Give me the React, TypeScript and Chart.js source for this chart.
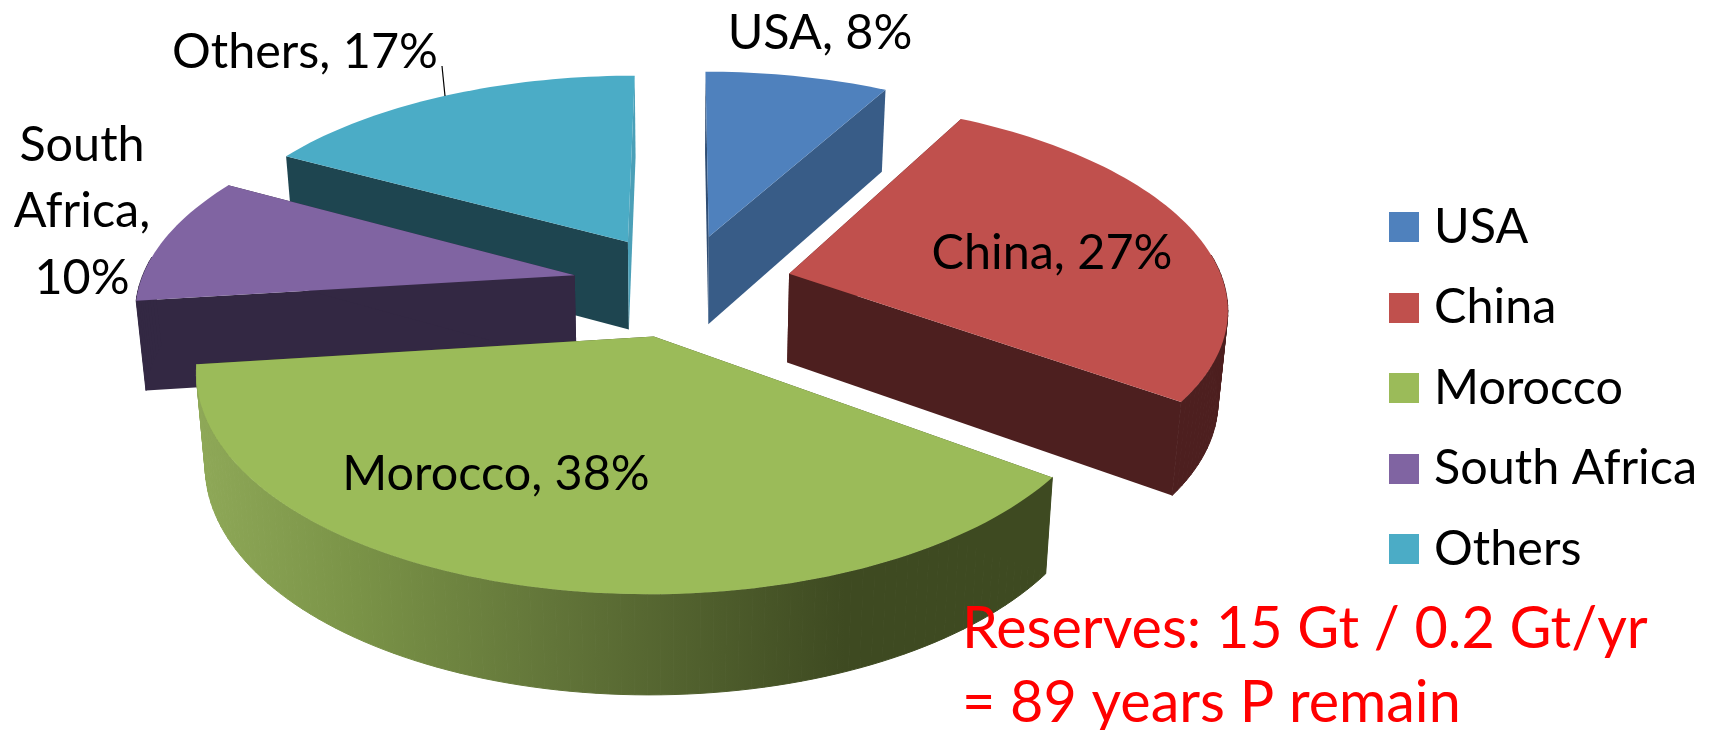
import React, { useEffect, useRef } from "react";
import { Chart, registerables } from "chart.js";

Chart.register(...registerables);

// Share of world phosphate rock reserves
const categories = ["USA", "China", "Morocco", "South Africa", "Others"];
const shares = [8, 27, 38, 10, 17];
const faceColors = ["#4F81BD", "#C0504D", "#9BBB59", "#8064A2", "#4BACC6"];
const outerWallColors = ["#385C87", "#4D1F1F", "#3E4A21", "#332843", "#1E4550"];
const startWallColors = ["#2F4D73", "#4D1F1F", "#3E4A21", "#332843", "#1E4550"];
const endWallColors = ["#385C87", "#4D1F1F", "#3E4A21", "#332843", "#4BA0B8"];
const noteLines = ["Reserves: 15 Gt / 0.2 Gt/yr", "= 89 years P remain"];

const FONT = "Lato, Carlito, sans-serif";

// Where each slice label sits: anchor centre and how its text wraps
const labelSpots = [
  { x: 820, y: 33, lines: null },
  { x: 1052, y: 253, lines: null },
  { x: 496, y: 474, lines: null },
  { x: 82, y: 145, lines: ["South", "Africa,", "10%"] },
  { x: 305, y: 52, lines: null },
];

// Camera used for the tilted disc: x/y centre, half extents, perspective strength
const view = { cx: 682.3, cy: 284.8, spanX: 434.9, spanY: 202.6, persp: 0.148 };
const wall = { base: 82, growth: 0.037, refY: 90, narrowing: 0.982 };

type Pt = { x: number; y: number };

function project(u: number, v: number): Pt {
  const s = 1 / (1 - view.persp * v);
  return { x: view.cx + view.spanX * u * s, y: view.cy + view.spanY * v * s };
}

function drop(p: Pt): Pt {
  return {
    x: view.cx + (p.x - view.cx) * wall.narrowing,
    y: p.y + wall.base + wall.growth * (p.y - wall.refY),
  };
}

function fillPoly(ctx: CanvasRenderingContext2D, pts: Pt[], fill: string | CanvasGradient) {
  ctx.beginPath();
  pts.forEach((p, i) => (i ? ctx.lineTo(p.x, p.y) : ctx.moveTo(p.x, p.y)));
  ctx.closePath();
  ctx.fillStyle = fill;
  ctx.fill();
}

// Square legend swatch, wider than the slot the legend reserves for it
function swatch(color: string) {
  const c = document.createElement("canvas");
  c.width = 30;
  c.height = 30;
  const g = c.getContext("2d") as CanvasRenderingContext2D;
  g.fillStyle = color;
  g.fillRect(0, 0, 30, 30);
  return c;
}

const pie3d = {
  id: "pie3d",
  // The flat arcs are replaced by their extruded projection
  beforeDatasetDraw: () => false,
  beforeDatasetsDraw(chart: any) {
    const ctx: CanvasRenderingContext2D = chart.ctx;
    const slices = chart.getDatasetMeta(0).data.map((arc: any, index: number) => {
      const R = arc.outerRadius;
      const mid = (arc.startAngle + arc.endAngle) / 2;
      const off = arc.options.offset / R;
      const ou = off * Math.cos(mid);
      const ov = off * Math.sin(mid);
      const rim: Pt[] = [];
      const facing: boolean[] = [];
      const steps = Math.max(8, Math.ceil((arc.endAngle - arc.startAngle) * 40));
      for (let i = 0; i <= steps; i++) {
        const a = arc.startAngle + ((arc.endAngle - arc.startAngle) * i) / steps;
        rim.push(project(ou + Math.cos(a), ov + Math.sin(a)));
        facing.push(Math.sin(a) > -0.1);
      }
      return { index, apex: project(ou, ov), rim, facing };
    });
    slices.sort((a: any, b: any) => a.apex.y - b.apex.y);

    ctx.save();
    ctx.lineJoin = "round";
    for (const { index, apex, rim, facing } of slices) {
      const low = rim.map(drop);
      const apexLow = drop(apex);
      fillPoly(ctx, [apex, rim[0], low[0], apexLow], startWallColors[index]);
      fillPoly(ctx, [apex, rim[rim.length - 1], low[low.length - 1], apexLow], endWallColors[index]);

      let outer: string | CanvasGradient = outerWallColors[index];
      if (categories[index] === "Morocco") {
        const g = ctx.createLinearGradient(195, 0, 845, 0);
        g.addColorStop(0, "#8FA958");
        g.addColorStop(0.25, "#7A9347");
        g.addColorStop(0.55, "#627539");
        g.addColorStop(1, "#3E4A21");
        outer = g;
      }
      // Outer wall, one band per rim step, only where it turns toward the viewer
      ctx.strokeStyle = outer;
      ctx.lineWidth = 1;
      for (let i = 0; i < rim.length - 1; i++) {
        if (!facing[i] || !facing[i + 1]) continue;
        fillPoly(ctx, [rim[i], rim[i + 1], low[i + 1], low[i]], outer);
        ctx.stroke();
      }
      fillPoly(ctx, [apex, ...rim], faceColors[index]);
    }
    ctx.restore();
  },
  afterDatasetsDraw(chart: any) {
    const ctx: CanvasRenderingContext2D = chart.ctx;
    ctx.save();
    ctx.fillStyle = "#000000";
    ctx.font = `48.5px ${FONT}`;
    ctx.textAlign = "center";
    ctx.textBaseline = "middle";
    categories.forEach((name, i) => {
      const spot = labelSpots[i];
      const lines = spot.lines ?? [`${name}, ${shares[i]}%`];
      lines.forEach((line, k) => ctx.fillText(line, spot.x, spot.y + k * 66.5));
    });

    // Leader from the Others label to its slice
    ctx.strokeStyle = "#000000";
    ctx.lineWidth = 1.2;
    ctx.beginPath();
    ctx.moveTo(442, 66);
    ctx.lineTo(445, 96);
    ctx.stroke();

    ctx.fillStyle = "#FF0000";
    ctx.font = `57.5px ${FONT}`;
    ctx.textAlign = "left";
    noteLines.forEach((line, k) => ctx.fillText(line, 962, 629 + k * 74));
    ctx.restore();
  },
};

export default function App() {
  const ref = useRef<HTMLCanvasElement>(null);
  useEffect(() => {
    const chart = new Chart(ref.current as HTMLCanvasElement, {
      type: "pie",
      data: {
        labels: categories,
        datasets: [
          {
            data: shares,
            backgroundColor: faceColors,
            borderWidth: 0,
            offset: 77,
          },
        ],
      },
      options: {
        responsive: false,
        animation: false,
        layout: { padding: { top: 46, right: 2, bottom: 0, left: 0 } },
        plugins: {
          title: { display: false },
          tooltip: { enabled: false },
          legend: {
            position: "right",
            labels: {
              usePointStyle: true,
              boxWidth: 12,
              boxHeight: 30,
              padding: 32,
              color: "#000000",
              font: { family: FONT, size: 48.5 },
              generateLabels: (c: any) =>
                categories.map((text, index) => ({
                  text,
                  index,
                  datasetIndex: 0,
                  fontColor: "#000000",
                  fillStyle: faceColors[index],
                  strokeStyle: faceColors[index],
                  lineWidth: 0,
                  hidden: !c.getDataVisibility(index),
                  pointStyle: swatch(faceColors[index]),
                })),
            },
          },
        },
      },
      plugins: [pie3d],
    } as any);
    return () => chart.destroy();
  }, []);
  return (
    <div style={{ position: "absolute", left: 0, top: 0, width: 1709, height: 730, background: "#ffffff" }}>
      <canvas ref={ref} width={1709} height={730} style={{ display: "block" }} />
    </div>
  );
}
